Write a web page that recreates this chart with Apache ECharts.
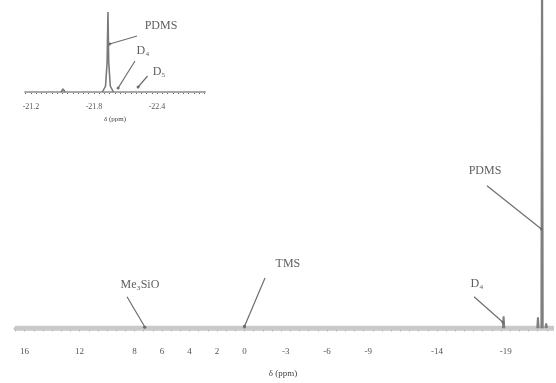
<!DOCTYPE html>
<html>
<head>
<meta charset="utf-8">
<script src="https://cdn.jsdelivr.net/npm/echarts@6/dist/echarts.min.js"></script>
<style>
  html, body { margin: 0; padding: 0; background: #fff; }
  #chart { width: 556px; height: 383px; }
</style>
</head>
<body>
<div id="chart"></div>
<script>
// 29Si NMR spectrum: chemical shifts (ppm) and peak intensities (arb. units)
const mainShift  = [7.3, 0.0, -18.85, -21.35, -21.65, -21.95];
const mainHeight = [2, 3, 12, 11, 420, 5];
const mainTickLabels = [16, 12, 8, 6, 4, 2, 0, -3, -6, -9, -14, -19];

// Expanded PDMS region (inset)
const insetShift  = [-21.505, -21.88, -21.91, -21.925, -21.933, -21.94, -21.955, -21.985];
const insetHeight = [3, 0, 6, 30, 80, 30, 6, 0];
const insetTickLabels = [-21.2, -21.8, -22.4];

// Peak assignments: label anchor, leader start, leader tip (ppm, intensity)
const mainNotes    = ['Me\u2083SiO', 'TMS', 'D\u2084', 'PDMS'];
const mainNoteAt   = [[7.61, 44], [-3.16, 66], [-16.91, 45], [-17.5, 160]];
const mainNoteFrom = [[8.55, 32], [-1.49, 51], [-16.70, 32], [-17.64, 145]];
const mainNoteTip  = [[7.24, 1], [0.0, 2], [-18.80, 6], [-21.6, 101]];

const insetNotes    = ['PDMS', 'D\u2084', 'D\u2085'];
const insetNoteAt   = [[-22.438, 66], [-22.267, 41], [-22.42, 20]];
const insetNoteFrom = [[-22.21, 56], [-22.19, 31], [-22.31, 16]];
const insetNoteTip  = [[-21.95, 48], [-22.03, 4], [-22.22, 5]];

const SERIF = '"Liberation Serif", "DejaVu Serif", serif';

// narrow spikes for the full-range spectrum
function spikes(shifts, heights, halfWidth) {
  const pts = [];
  shifts.forEach((s, i) => {
    pts.push([s + halfWidth, 0], [s, heights[i]], [s - halfWidth, 0], null);
  });
  return pts;
}

function ticksEvery(step, lo, hi) {
  const out = [];
  for (let v = Math.ceil(lo / step) * step; v <= hi + 1e-9; v += step) {
    out.push(Math.round(v * 10000) / 10000);
  }
  return out;
}

function leaderLines(from, tip) {
  return from.map((f, i) => [{ coord: f }, { coord: tip[i] }]);
}

function noteSeries(names, at, xi, yi, size) {
  return {
    type: 'scatter', xAxisIndex: xi, yAxisIndex: yi, symbolSize: 0, silent: true,
    label: { show: true, position: 'inside', formatter: '{b}', color: '#333',
             fontFamily: SERIF, fontSize: size },
    data: names.map((n, i) => ({ name: n, value: at[i] })),
    z: 5
  };
}

const mainMin = -22.3, mainMax = 16.7;
const insetMin = -22.857, insetMax = -21.143;

const chart = echarts.init(document.getElementById('chart'));
chart.setOption({
  animation: false,
  backgroundColor: '#ffffff',
  grid: [
    { left: 15, right: 5, top: 0, bottom: 37 },
    { left: 25, top: 0, width: 180, height: 97 }
  ],
  xAxis: [
    {
      gridIndex: 0, type: 'value', inverse: true, min: mainMin, max: mainMax,
      name: '\u03b4 (ppm)', nameLocation: 'middle', nameGap: 29,
      nameTextStyle: { fontFamily: SERIF, fontSize: 9, color: '#444' },
      axisLine: { lineStyle: { color: '#c8c8c8', width: 3 } },
      axisTick: { customValues: ticksEvery(2 / 3, mainMin, mainMax), length: 3,
                  lineStyle: { color: '#707070', width: 1.2 } },
      axisLabel: { customValues: mainTickLabels, fontFamily: SERIF, fontSize: 9,
                   color: '#555', margin: 7 },
      splitLine: { show: false }
    },
    {
      gridIndex: 1, type: 'value', inverse: true, min: insetMin, max: insetMax,
      name: '\u03b4 (ppm)', nameLocation: 'middle', nameGap: 19,
      nameTextStyle: { fontFamily: SERIF, fontSize: 7, color: '#444' },
      axisLine: { lineStyle: { color: '#b5b5b5', width: 2 } },
      axisTick: { customValues: ticksEvery(0.05, insetMin, insetMax),
                  length: 2, lineStyle: { color: '#666', width: 1 } },
      axisLabel: { customValues: insetTickLabels, fontFamily: SERIF, fontSize: 8,
                   color: '#555', margin: 6, formatter: v => v.toFixed(1) },
      splitLine: { show: false }
    }
  ],
  yAxis: [
    { gridIndex: 0, type: 'value', min: -12, max: 334, show: false },
    { gridIndex: 1, type: 'value', min: -5, max: 92, show: false }
  ],
  series: [
    {
      name: 'baseline', type: 'line', xAxisIndex: 0, yAxisIndex: 0, symbol: 'none', silent: true,
      lineStyle: { color: '#c9c9c9', width: 5 },
      data: [[mainMax, 0], [mainMin - 1, 0]], clip: false
    },
    {
      name: 'spectrum', type: 'line', xAxisIndex: 0, yAxisIndex: 0, symbol: 'none',
      connectNulls: false, silent: true,
      lineStyle: { color: '#7f7f7f', width: 2 },
      data: spikes(mainShift, mainHeight, 0.05),
      markLine: {
        silent: true, symbol: ['none', 'circle'], symbolSize: 3,
        lineStyle: { color: '#6e6e6e', width: 1.2, type: 'solid' },
        label: { show: false },
        data: leaderLines(mainNoteFrom, mainNoteTip)
      }
    },
    noteSeries(mainNotes, mainNoteAt, 0, 0, 12),
    {
      name: 'inset baseline', type: 'line', xAxisIndex: 1, yAxisIndex: 1, symbol: 'none', silent: true,
      lineStyle: { color: '#a8a8a8', width: 2 },
      data: [[insetMax, 0], [insetMin, 0]]
    },
    {
      name: 'inset spectrum', type: 'line', xAxisIndex: 1, yAxisIndex: 1, symbol: 'none', silent: true,
      lineStyle: { color: '#7a7a7a', width: 1.6 },
      data: [[insetShift[0] + 0.02, 0], [insetShift[0], insetHeight[0]], [insetShift[0] - 0.02, 0], null]
        .concat(insetShift.slice(1).map((s, i) => [s, insetHeight[i + 1]])),
      markLine: {
        silent: true, symbol: ['none', 'circle'], symbolSize: 3,
        lineStyle: { color: '#6e6e6e', width: 1.2, type: 'solid' },
        label: { show: false },
        data: leaderLines(insetNoteFrom, insetNoteTip)
      }
    },
    noteSeries(insetNotes, insetNoteAt, 1, 1, 12)
  ]
});
</script>
</body>
</html>
